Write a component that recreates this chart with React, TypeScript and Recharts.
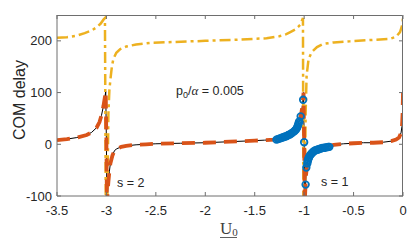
import * as React from "react";
import { ComposedChart, XAxis, YAxis, Line, Scatter } from "recharts";

// [U0, delay]
const responseCurve: Array<[number, number]> = [
    [-3.5, 8], [-3.4, 10], [-3.3, 13], [-3.2, 18], [-3.15, 23], [-3.1, 32], [-3.07, 43],
    [-3.05, 56], [-3.03, 74], [-3.015, 92], [-3.007, 102], [-3.0, 0], [-2.995, -115],
    [-2.988, -92], [-2.98, -72], [-2.97, -52], [-2.96, -37], [-2.94, -22], [-2.92, -13],
    [-2.9, -9], [-2.85, -5], [-2.8, -3], [-2.7, -1], [-2.6, 0], [-2.5, 1], [-2.25, 2],
    [-2.0, 3], [-1.75, 5], [-1.5, 7], [-1.4, 8], [-1.3, 9], [-1.28, 10], [-1.24, 12],
    [-1.2, 15], [-1.16, 18], [-1.12, 22], [-1.09, 27], [-1.07, 33], [-1.055, 41],
    [-1.045, 47], [-1.035, 54], [-1.025, 64], [-1.017, 76], [-1.011, 88], [-1.006, 100],
    [-1.0, 4], [-0.994, -115], [-0.987, -82], [-0.98, -58], [-0.972, -42], [-0.965, -34],
    [-0.955, -27], [-0.94, -21], [-0.92, -16], [-0.9, -13], [-0.86, -9], [-0.8, -5],
    [-0.75, -3], [-0.7, -1], [-0.6, 1], [-0.5, 2], [-0.4, 3], [-0.3, 3], [-0.2, 4],
    [-0.12, 6], [-0.07, 9], [-0.04, 13], [-0.02, 22], [-0.01, 35], [-0.004, 60], [0, 100],
];

const shiftedCurve: Array<[number, number]> = [
    [-3.5, 206], [-3.4, 207], [-3.3, 210], [-3.22, 215], [-3.15, 220], [-3.1, 226],
    [-3.06, 233], [-3.03, 241], [-3.015, 244], [-3.0, -400], [-2.99, -100], [-2.98, 60],
    [-2.97, 105], [-2.96, 125], [-2.945, 150], [-2.93, 165], [-2.9, 177], [-2.86, 184],
    [-2.8, 189], [-2.7, 193], [-2.56, 196], [-2.3, 198], [-2.0, 200], [-1.7, 202],
    [-1.5, 204], [-1.38, 205], [-1.25, 209], [-1.18, 213], [-1.14, 217], [-1.09, 222],
    [-1.06, 227], [-1.04, 231], [-1.025, 238], [-1.012, 244], [-1.004, -400], [-0.992, -100],
    [-0.985, 60], [-0.975, 133], [-0.955, 165], [-0.924, 178], [-0.87, 188], [-0.81, 194],
    [-0.7, 197], [-0.54, 199], [-0.3, 202], [-0.13, 204], [-0.07, 208], [-0.03, 217],
    [-0.012, 228], [-0.003, 240], [0, 245],
];

const fitPoints: Array<[number, number]> = [
    // left band
    [-1.28, 9], [-1.265, 10], [-1.25, 11], [-1.235, 12], [-1.22, 13], [-1.205, 14],
    [-1.19, 15], [-1.175, 16], [-1.16, 18], [-1.145, 19], [-1.13, 21], [-1.115, 23],
    [-1.1, 25], [-1.09, 27], [-1.08, 29], [-1.072, 32], [-1.065, 35], [-1.06, 38],
    [-1.055, 41], [-1.05, 44],
    // isolated
    [-1.035, 54], [-1.01, 86], [-1.0, 4], [-0.978, -45], [-0.985, -78],
    // right band
    [-0.968, -37], [-0.964, -33], [-0.96, -30], [-0.955, -27], [-0.95, -25], [-0.943, -22],
    [-0.935, -20], [-0.925, -18], [-0.915, -16], [-0.905, -14], [-0.89, -12], [-0.875, -11],
    [-0.86, -10], [-0.845, -9], [-0.83, -8], [-0.815, -7], [-0.8, -7], [-0.785, -6],
    [-0.77, -6], [-0.755, -5], [-0.745, -5],
];

const xTicks = [-3.5, -3, -2.5, -2, -1.5, -1, -0.5, 0];
const yTicks = [-100, 0, 100, 200];
const xMin = -3.5, xMax = 0, yMin = -100, yMax = 250;

// plot box (chart margins + axis sizes)
const W = 415, H = 245;
const M = { top: 15, right: 12, left: 57, bottom: 49 };
const plotW = W - M.left - M.right;
const plotH = H - M.top - M.bottom;
const px = (v: number) => M.left + ((v - xMin) / (xMax - xMin)) * plotW;
const py = (v: number) => M.top + ((yMax - v) / (yMax - yMin)) * plotH;

const toRows = (pts: Array<[number, number]>) => pts.map(([x, y]) => ({ x, y }));

const axisColor = "#6e6e6e";
const textColor = "#262626";
const sans = "Liberation Sans, Arial, sans-serif";
const tickFont = { fontSize: 13, fill: textColor, fontFamily: sans };

const Circle = (props: any) => (
    <circle cx={props.cx} cy={props.cy} r={3.3} fill="none" stroke="#0072BD" strokeWidth={1.8} />
);

export default function App(): JSX.Element {
    return (
        <div style={{ position: "absolute", left: 0, top: 0, width: W, height: H, background: "#fff" }}>
            <ComposedChart width={W} height={H} margin={{ top: M.top, right: M.right, bottom: 0, left: 0 }}>
                <XAxis type="number" dataKey="x" domain={[xMin, xMax]} ticks={xTicks}
                    allowDataOverflow height={M.bottom} stroke={axisColor} tickSize={-4} tickMargin={14}
                    tick={tickFont} />
                <YAxis type="number" domain={[yMin, yMax]} ticks={yTicks} allowDataOverflow
                    width={M.left} stroke={axisColor} tickSize={-4} tickMargin={9} tick={tickFont} />
                <Line data={toRows(responseCurve)} dataKey="y" stroke="#000" strokeWidth={1}
                    dot={false} isAnimationActive={false} />
                <Line data={toRows(shiftedCurve)} dataKey="y" stroke="#EDB120" strokeWidth={2.5}
                    strokeDasharray="11 4 3 4" dot={false} isAnimationActive={false} />
                <Line data={toRows(responseCurve)} dataKey="y" stroke="#D95319" strokeWidth={3.8}
                    strokeDasharray="13 8" dot={false} isAnimationActive={false} />
                <Scatter data={toRows(fitPoints)} dataKey="y" shape={Circle} isAnimationActive={false} />
            </ComposedChart>
            <svg width={W} height={H} style={{ position: "absolute", left: 0, top: 0, pointerEvents: "none" }}>
                {/* top and right edges of the box, inward ticks */}
                <path d={`M${M.left},${M.top + 0.5} H${W - M.right - 0.5} V${H - M.bottom}`}
                    fill="none" stroke={axisColor} strokeWidth={1} />
                {xTicks.map((t) => (
                    <line key={"xt" + t} x1={px(t)} x2={px(t)} y1={M.top} y2={M.top + 4} stroke={axisColor} />
                ))}
                {yTicks.map((t) => (
                    <line key={"yt" + t} x1={W - M.right} x2={W - M.right - 4} y1={py(t)} y2={py(t)} stroke={axisColor} />
                ))}
                <text transform="translate(25,100) rotate(-90)" textAnchor="middle" fontSize={16}
                    fill={textColor} fontFamily={sans}>COM delay</text>
                <text x={176} y={95} fontSize={12.5} fill={textColor} fontFamily={sans}>
                    p<tspan fontSize={9} dy={3}>0</tspan><tspan dy={-3}>/</tspan>
                    <tspan fontFamily="Liberation Serif, serif" fontStyle="italic" fontSize={13}>α</tspan>
                    <tspan> = 0.005</tspan>
                </text>
                <text x={117} y={187} fontSize={12.5} fill={textColor} fontFamily={sans}>s = 2</text>
                <text x={321} y={186} fontSize={12.5} fill={textColor} fontFamily={sans}>s = 1</text>
                <text x={220} y={234} fontSize={17} fill="#404040" fontFamily="Liberation Serif, serif">
                    U<tspan fontSize={11} dy={2}>0</tspan>
                </text>
                <line x1={220} x2={237} y1={237.5} y2={237.5} stroke="#606060" strokeWidth={1} />
            </svg>
        </div>
    );
}
